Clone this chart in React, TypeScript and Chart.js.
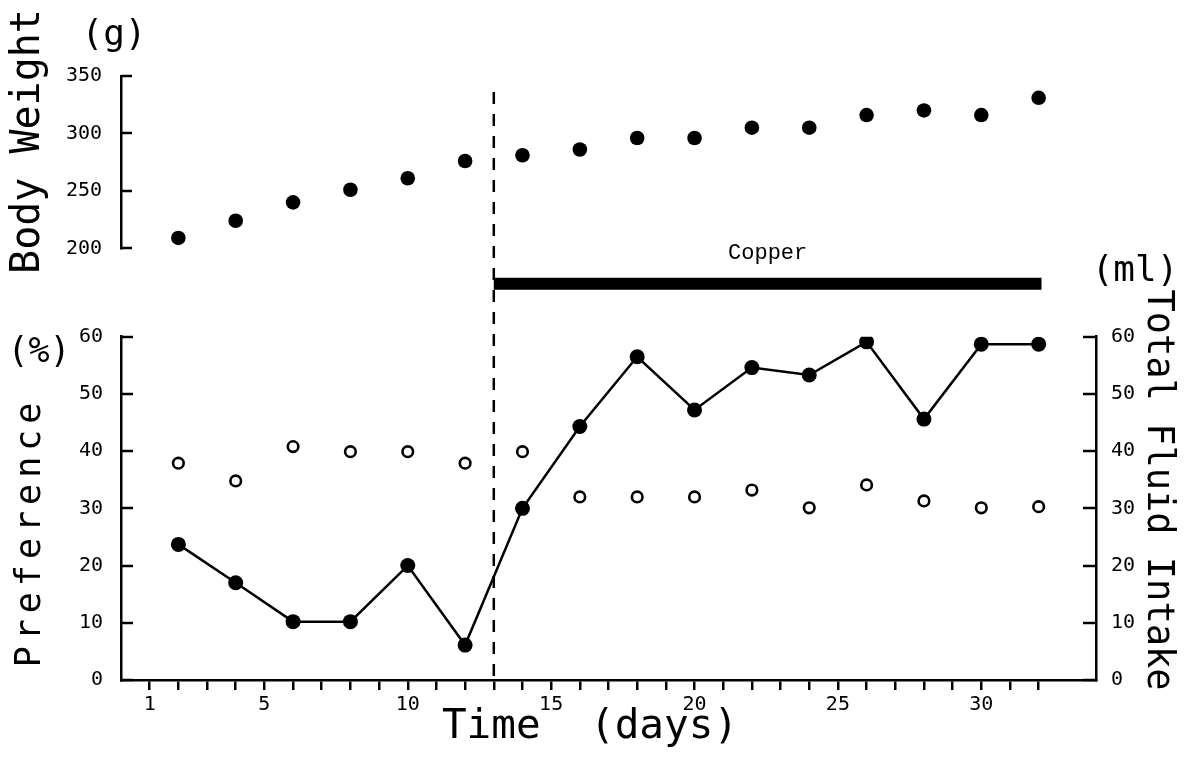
import React, { useEffect, useRef } from 'react';
import { Chart, registerables } from 'chart.js';

Chart.register(...registerables);

// ---------------- data ----------------
const DAYS = [2, 4, 6, 8, 10, 12, 14, 16, 18, 20, 22, 24, 26, 28, 30, 32];
const BODY_WEIGHT = [209, 224, 240, 251, 261, 276, 281, 286, 296, 296, 305, 305, 316, 320, 316, 331];
const PREFERENCE = [23.7, 17, 10.2, 10.2, 20, 6.1, 30, 44.3, 56.5, 47.2, 54.6, 53.3, 59.1, 45.6, 58.7, 58.7];
const TOTAL_FLUID = [37.9, 34.8, 40.8, 39.9, 39.9, 37.9, 39.9, 32.0, 32.0, 32.0, 33.2, 30.1, 34.1, 31.3, 30.1, 30.3];

const X_TICKS = [1, 2, 3, 4, 5, 6, 7, 8, 9, 10, 11, 12, 13, 14, 15, 16, 17, 18, 19, 20, 21, 22, 23, 24, 25, 26, 27, 28, 29, 30, 31, 32];
const X_TICK_LABELS = [1, 5, 10, 15, 20, 25, 30];
const BW_TICKS = [200, 250, 300, 350];
const PCT_TICKS = [0, 10, 20, 30, 40, 50, 60];
const ML_TICKS = [0, 10, 20, 30, 40, 50, 60];

const COPPER_START = 13;
const COPPER_END = 32.1;
const DASH_TOP_BW = 336;

// ---------------- styles ----------------
const MONO = '"DejaVu Sans Mono", monospace';
const AXIS_W = 2.5;
const TICK_FONT = { family: MONO, size: 20 };

const TEXTS = [
  { text: 'Body Weight', x: 29, y: 141.5, rot: -Math.PI / 2, font: `40px ${MONO}`, spacing: 0 },
  { text: '(g)', x: 114, y: 36, rot: 0, font: `36px ${MONO}`, spacing: 0 },
  { text: 'Preference', x: 30.5, y: 532, rot: -Math.PI / 2, font: `35px ${MONO}`, spacing: 6 },
  { text: '(%)', x: 39, y: 353, rot: 0, font: `35px ${MONO}`, spacing: 0 },
  { text: 'Total Fluid Intake', x: 1158, y: 490, rot: Math.PI / 2, font: `37px ${MONO}`, spacing: 0 },
  { text: '(ml)', x: 1135, y: 272, rot: 0, font: `36px ${MONO}`, spacing: 0 },
  { text: 'Time  (days)', x: 590, y: 727, rot: 0, font: `41px ${MONO}`, spacing: 0 },
];

// inward-pointing tick marks for the y axes: [scale id, length, direction]
const INWARD_TICKS: [string, number, number][] = [
  ['yBW', 11, 1],
  ['yPref', 12, 1],
  ['yFluid', 13, -1],
];

const figurePlugin = {
  id: 'figureExtras',
  beforeDatasetsDraw(chart: any) {
    const { ctx, scales } = chart;
    // treatment-onset dashed line
    const x = scales.x.getPixelForValue(COPPER_START);
    const yTop = scales.yBW.getPixelForValue(DASH_TOP_BW);
    const yBot = scales.yPref.getPixelForValue(0);
    ctx.save();
    ctx.strokeStyle = '#000';
    ctx.lineWidth = 2.5;
    ctx.setLineDash([12, 10]);
    ctx.beginPath();
    ctx.moveTo(x, yTop);
    ctx.lineTo(x, yBot);
    ctx.stroke();
    ctx.restore();

    // inward tick marks
    ctx.save();
    ctx.strokeStyle = '#000';
    ctx.lineWidth = AXIS_W;
    ctx.lineCap = 'butt';
    for (const [id, len, dir] of INWARD_TICKS) {
      const s = scales[id];
      const x0 = dir > 0 ? s.right : s.left;
      for (const t of s.ticks) {
        const y = Math.round(s.getPixelForValue(t.value));
        ctx.beginPath();
        ctx.moveTo(x0, y);
        ctx.lineTo(x0 + dir * len, y);
        ctx.stroke();
      }
    }
    ctx.restore();
  },
  afterDraw(chart: any) {
    const { ctx, scales } = chart;
    for (const t of TEXTS) {
      ctx.save();
      ctx.translate(t.x, t.y);
      if (t.rot) ctx.rotate(t.rot);
      ctx.font = t.font;
      (ctx as any).letterSpacing = `${t.spacing}px`;
      ctx.fillStyle = '#000';
      ctx.textAlign = 'center';
      ctx.textBaseline = 'middle';
      ctx.fillText(t.text, 0, 0);
      ctx.restore();
    }
    // "Copper" label centred over the treatment bar
    const cx = (scales.x.getPixelForValue(COPPER_START) + scales.x.getPixelForValue(COPPER_END)) / 2;
    const cy = scales.yCu.getPixelForValue(0.94);
    ctx.save();
    ctx.font = `22px "Liberation Mono", monospace`;
    ctx.fillStyle = '#000';
    ctx.textAlign = 'center';
    ctx.textBaseline = 'middle';
    ctx.fillText('Copper', cx, cy);
    ctx.restore();
  },
};

function yAxis(extra: any, pad: number, values: number[]) {
  return {
    type: 'linear',
    border: { display: true, color: '#000', width: AXIS_W },
    grid: { display: true, drawOnChartArea: false, drawTicks: false, color: '#000', lineWidth: AXIS_W },
    ticks: { color: '#000', font: TICK_FONT, padding: pad },
    afterBuildTicks: (s: any) => { s.ticks = values.map((v) => ({ value: v })); },
    ...extra,
  };
}

export default function App() {
  const ref = useRef<HTMLCanvasElement>(null);

  useEffect(() => {
    if (!ref.current) return;
    const chart = new Chart(ref.current, {
      type: 'line',
      data: {
        datasets: [
          {
            label: 'Body Weight',
            data: DAYS.map((d, i) => ({ x: d, y: BODY_WEIGHT[i] })),
            yAxisID: 'yBW',
            showLine: false,
            pointRadius: 7.3,
            pointBackgroundColor: '#000',
            pointBorderColor: '#000',
            pointBorderWidth: 0,
          },
          {
            label: 'Preference',
            data: DAYS.map((d, i) => ({ x: d, y: PREFERENCE[i] })),
            yAxisID: 'yPref',
            borderColor: '#000',
            borderWidth: 2.5,
            tension: 0,
            pointRadius: 7.5,
            pointBackgroundColor: '#000',
            pointBorderColor: '#000',
            pointBorderWidth: 0,
          },
          {
            label: 'Total Fluid Intake',
            data: DAYS.map((d, i) => ({ x: d, y: TOTAL_FLUID[i] })),
            yAxisID: 'yFluid',
            showLine: false,
            pointRadius: 5.3,
            pointBackgroundColor: '#fff',
            pointBorderColor: '#000',
            pointBorderWidth: 2.6,
          },
          {
            label: 'Copper',
            data: [{ x: COPPER_START, y: 0.6 }, { x: COPPER_END, y: 0.6 }],
            yAxisID: 'yCu',
            borderColor: '#000',
            borderWidth: 12,
            borderCapStyle: 'butt',
            pointRadius: 0,
            clip: false,
          },
        ],
      },
      options: {
        responsive: false,
        animation: false,
        devicePixelRatio: 1,
        layout: { padding: { top: 76, left: 0, right: 0, bottom: 0 } },
        plugins: { legend: { display: false }, tooltip: { enabled: false }, title: { display: false } },
        scales: {
          x: {
            type: 'linear',
            min: 0,
            max: 34,
            border: { display: true, color: '#000', width: AXIS_W },
            grid: { drawOnChartArea: false, drawTicks: true, tickLength: 10, color: '#000', lineWidth: AXIS_W },
            ticks: {
              color: '#000',
              font: TICK_FONT,
              padding: 3,
              autoSkip: false,
              maxRotation: 0,
              minRotation: 0,
              callback: (v: any) => (X_TICK_LABELS.includes(Number(v)) ? String(v) : ''),
            },
            afterBuildTicks: (s: any) => { s.ticks = X_TICKS.map((v) => ({ value: v })); },
            afterFit: (s: any) => { s.height = 79; },
          },
          yBW: yAxis({
            position: 'left', stack: 'left', stackWeight: 172.3, weight: 3, min: 200, max: 350,
            afterFit: (s: any) => { s.width = 121; },
          }, 19, BW_TICKS),
          yCu: {
            type: 'linear', position: 'left', stack: 'left', stackWeight: 88.4, weight: 2, min: 0, max: 1, display: false,
          },
          yPref: yAxis({
            position: 'left', stack: 'left', stackWeight: 343.3, weight: 1, min: 0, max: 60,
            afterFit: (s: any) => { s.width = 121; },
          }, 18, PCT_TICKS),
          yGap: {
            type: 'linear', position: 'right', stack: 'right', stackWeight: 260.7, weight: 1, min: 0, max: 1, display: false,
          },
          yFluid: yAxis({
            position: 'right', stack: 'right', stackWeight: 343.3, weight: 2, min: 0, max: 60,
            afterFit: (s: any) => { s.width = 93; },
          }, 15, ML_TICKS),
        },
      } as any,
      plugins: [figurePlugin],
    });
    return () => chart.destroy();
  }, []);

  return (
    <div style={{ position: 'absolute', left: 0, top: 0, width: 1189, height: 759, background: '#fff' }}>
      <canvas ref={ref} width={1189} height={759} style={{ display: 'block' }} />
    </div>
  );
}
